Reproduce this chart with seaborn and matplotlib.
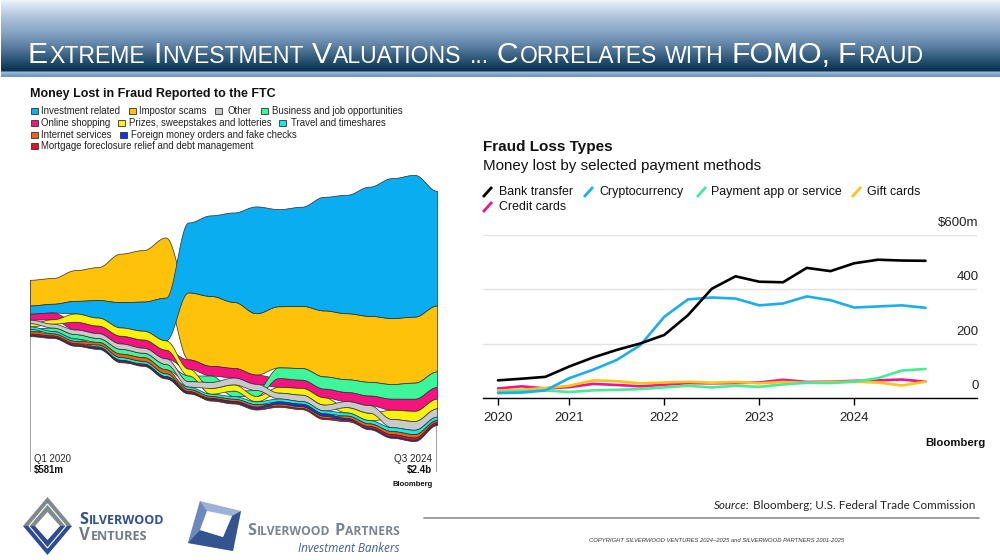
import numpy as np
import pandas as pd
import matplotlib
matplotlib.use("Agg")
import matplotlib.pyplot as plt
import seaborn as sns
from matplotlib.patches import Polygon, Rectangle
from matplotlib.colors import to_rgb
from matplotlib.transforms import ScaledTranslation

# ---------------- data: left stream chart (quarterly losses, $m) ----------------
stream_quarters = ["Q1 2020", "Q2 2020", "Q3 2020", "Q4 2020", "Q1 2021", "Q2 2021", "Q3 2021",
                   "Q4 2021", "Q1 2022", "Q2 2022", "Q3 2022", "Q4 2022", "Q1 2023", "Q2 2023",
                   "Q3 2023", "Q4 2023", "Q1 2024", "Q2 2024", "Q3 2024"]
stream_names = ["Investment related", "Impostor scams", "Other", "Business and job opportunities",
                "Online shopping", "Prizes, sweepstakes and lotteries", "Travel and timeshares",
                "Internet services", "Foreign money orders and fake checks",
                "Mortgage foreclosure relief and debt management"]
investment_related = [84, 90, 130, 180, 260, 300, 440, 720, 830, 920, 1100, 1000, 1020, 1170, 1220, 1330, 1440, 1460, 1180]
impostor_scams     = [265, 265, 316, 340, 500, 530, 620, 690, 720, 680, 632, 630, 640, 680, 680, 680, 680, 680, 680]
other_fraud        = [36, 40, 48, 50, 55, 52, 58, 55, 62, 70, 65, 60, 65, 60, 62, 78, 85, 90, 85]
business_job       = [25, 35, 45, 40, 50, 45, 55, 60, 65, 55, 60, 110, 120, 125, 130, 140, 150, 165, 160]
online_shopping    = [62, 70, 80, 78, 80, 85, 90, 95, 100, 100, 95, 90, 85, 90, 95, 100, 115, 125, 120]
prizes_lotteries   = [33, 45, 85, 82, 85, 90, 95, 70, 60, 65, 55, 60, 70, 75, 55, 75, 95, 105, 100]
travel_timeshares  = [25, 25, 25, 22, 28, 28, 30, 25, 25, 28, 30, 30, 28, 30, 32, 35, 40, 45, 35]
internet_services  = [24, 22, 24, 26, 35, 38, 40, 22, 20, 22, 25, 22, 20, 22, 25, 28, 32, 35, 22]
foreign_money      = [12, 12, 12, 12, 14, 12, 12, 12, 14, 15, 18, 22, 25, 24, 18, 15, 15, 15, 12]
mortgage_relief    = [15, 13, 14, 12, 12, 12, 12, 12, 12, 12, 12, 12, 12, 14, 15, 18, 22, 22, 18]
stream_colors = ["#0aaef0", "#ffc20a", "#c9c9c9", "#3ff59a", "#f5137f",
                 "#fbf20c", "#12ece6", "#f5620f", "#1036e6", "#e5112b"]

# ---------------- data: right line chart ($m per quarter) ----------------
pay_quarters = ["2020Q1", "2020Q2", "2020Q3", "2020Q4", "2021Q1", "2021Q2", "2021Q3", "2021Q4",
                "2022Q1", "2022Q2", "2022Q3", "2022Q4", "2023Q1", "2023Q2", "2023Q3", "2023Q4",
                "2024Q1", "2024Q2", "2024Q3"]
pay_series = ["Bank transfer", "Cryptocurrency", "Payment app or service", "Gift cards", "Credit cards"]
bank_transfer  = [65, 71, 78, 116, 149, 177, 201, 232, 305, 402, 448, 428, 426, 479, 467, 496, 509, 506, 505]
cryptocurrency = [18, 20, 28, 73, 104, 140, 195, 299, 363, 370, 366, 341, 348, 374, 360, 333, 337, 341, 332]
payment_app    = [22, 24, 28, 22, 28, 30, 33, 39, 45, 39, 45, 41, 50, 56, 55, 60, 73, 101, 107]
gift_cards     = [28, 30, 37, 45, 65, 62, 54, 57, 60, 56, 59, 54, 59, 56, 59, 60, 57, 46, 60]
credit_cards   = [35, 43, 35, 40, 52, 48, 43, 49, 55, 54, 55, 57, 67, 59, 60, 63, 65, 68, 60]
pay_colors = ["#000000", "#1aaef0", "#45ec95", "#ffc21a", "#f0168a"]
year_ticks = ["2020", "2021", "2022", "2023", "2024"]
value_ticks = [0, 200, 400, 600]
value_tick_labels = ["0", "200", "400", "$600m"]

# ---------------- setup ----------------
sns.set_theme(style="white")
plt.rcParams["font.family"] = ["Liberation Sans", "DejaVu Sans"]

W, H = 1000, 560
fig = plt.figure(figsize=(W / 100, H / 100), dpi=100)
fig.patch.set_facecolor("white")
R = fig.canvas.get_renderer()
PX2PT = 72 / 100


def fx(x):
    return x / W


def fy(y):
    return 1 - y / H


def put(x, y, s, size, width=None, ha="left", va="center", **kw):
    t = fig.text(fx(x), fy(y), s, fontsize=size, ha=ha, va=va, **kw)
    if width:
        bw = t.get_window_extent(renderer=R).width
        t.set_fontsize(size * width / bw)
    return t


def fit_size(s, size, width, **kw):
    t = fig.text(0, 0, s, fontsize=size, **kw)
    bw = t.get_window_extent(renderer=R).width
    t.remove()
    return size * width / bw


def runs(x, yb, parts, width=None):
    # parts: (text, size_pt, gap_px_before, kwargs)
    def lay(sc):
        arts, cx = [], x
        for text, size, gap, kw in parts:
            cx += gap * sc
            t = fig.text(fx(cx), fy(yb), text, fontsize=size * sc, ha="left", va="baseline", **kw)
            cx += t.get_window_extent(renderer=R).width
            arts.append(t)
        return arts, cx - x
    arts, tw = lay(1.0)
    if width:
        for a in arts:
            a.remove()
        arts, tw = lay(width / tw)
    return arts


def smallcaps(x, yb, words, big, small, width=None, **kw):
    parts = []
    for wi, (b, s) in enumerate(words):
        first = True
        for part, sz in ((b, big), (s, small)):
            if not part:
                continue
            if first:
                gap = 0.34 * small / PX2PT if wi else 0
            else:
                gap = 0.06 * sz / PX2PT
            parts.append((part, sz, gap, kw))
            first = False
    return runs(x, yb, parts, width)


# overlay axes in pixel coordinates for decorations
ax_o = fig.add_axes([0, 0, 1, 1], zorder=-1)
ax_o.patch.set_alpha(0)

# ---------------- title bar ----------------
stops = [(0, "#f2f6fa"), (6, "#d6e2ef"), (18, "#abc2db"), (32, "#88a6c6"), (46, "#5e81a3"),
         (58, "#315a7b"), (70, "#0b3453"), (71.5, "#0b3453"), (72, "#a3bfda"), (76, "#7398bf")]
rows = np.arange(0, 77, 0.5) + 0.25
pos = [p for p, _ in stops]
rgb = np.stack([np.interp(rows, pos, [to_rgb(c)[k] for _, c in stops]) for k in range(3)], axis=1)
img = np.repeat(rgb[:, None, :], 2, axis=1)
ax_o.imshow(img, extent=[1, W, 77, 0], aspect="auto", interpolation="nearest")

title_words = [("E", "XTREME"), ("I", "NVESTMENT"), ("V", "ALUATIONS"), ("", "..."),
               ("C", "ORRELATES"), ("", "WITH"), ("FOMO,", ""), ("F", "RAUD")]
smallcaps(28, 63, title_words, 21, 16, width=897, color="white",
          family=["Liberation Sans", "DejaVu Sans"])

# ---------------- left: stream chart ----------------
vals = np.array([investment_related, impostor_scams, other_fraud, business_job, online_shopping,
                 prizes_lotteries, travel_timeshares, internet_services, foreign_money,
                 mortgage_relief], dtype=float)
n_l, n_q = vals.shape
tot = vals.sum(axis=0)
lower = np.zeros_like(vals)
upper = np.zeros_like(vals)
for i in range(n_q):
    base = -tot[i] / 2
    for k in np.argsort(vals[:, i], kind="stable"):
        lower[k, i] = base
        base += vals[k, i]
        upper[k, i] = base

N = 30
s = np.linspace(0, 1, N, endpoint=False)
wgt = 0.5 - 0.5 * np.cos(np.pi * s)
xq = np.arange(n_q)
xs = np.concatenate([xq[i] + s for i in range(n_q - 1)] + [[xq[-1]]])


def smooth(a):
    return np.concatenate([a[i] + (a[i + 1] - a[i]) * wgt for i in range(n_q - 1)] + [[a[-1]]])


ax_l = fig.add_axes([fx(30), fy(475), 407 / W, 315 / H])
ax_l.patch.set_alpha(0)
ax_l.set_xlim(0, n_q - 1)
ax_l.set_ylim(-1720, 1524)
ax_l.axis("off")
ax_l.vlines([0, n_q - 1], -1690, [tot[0] / 2, tot[-1] / 2], color="#9a9a9a", lw=1.3, zorder=0)
draw_order = [1, 0, 4, 3, 5, 2, 6, 7, 8, 9]
for z, k in enumerate(draw_order):
    ax_l.fill_between(xs, smooth(lower[k]), smooth(upper[k]), facecolor=stream_colors[k],
                      edgecolor="#2a2a2a", linewidth=0.5, zorder=2 + z)

put(30, 94, "Money Lost in Fraud Reported to the FTC", 9, width=246, weight="bold", color="#111")
leg_size = fit_size(stream_names[-1], 7, 214)
left_legend_layout = [(31, 41, 111), (129, 139, 111), (215, 227, 111), (261, 272, 111),
                      (31, 41, 123), (118, 129, 123), (279, 291, 123),
                      (31, 41, 135), (120, 131, 135),
                      (31, 41, 146)]
for k, (sx, tx, y) in enumerate(left_legend_layout):
    ax_o.add_patch(Rectangle((sx, y - 3.4), 6.8, 6.8, facecolor=stream_colors[k],
                             edgecolor="#333333", lw=0.6))
    put(tx, y, stream_names[k], leg_size, color="#222")

put(34, 459, stream_quarters[0], 8, width=37, color="#222")
put(34, 470, f"${tot[0]:.0f}m", 8, width=30, weight="bold", color="#111")
put(432, 459, stream_quarters[-1], 8, width=38, ha="right", color="#222")
put(432, 470, f"${tot[-1] / 1000:.1f}b", 8, width=25, ha="right", weight="bold", color="#111")
put(433, 485, "Bloomberg", 6, width=41, ha="right", weight="bold", color="#111")

# ---------------- right: line chart ----------------
per = pd.PeriodIndex(pay_quarters, freq="Q")
xnum = per.year + per.quarter / 4
df = pd.DataFrame({"x": xnum, "Bank transfer": bank_transfer, "Cryptocurrency": cryptocurrency,
                   "Payment app or service": payment_app, "Gift cards": gift_cards,
                   "Credit cards": credit_cards})
long = df.melt(id_vars="x", var_name="series", value_name="value")

ax_r = fig.add_axes([fx(483), fy(398), (977 - 483) / W, (398 - 235) / H])
ax_r.patch.set_alpha(0)
ax_r.set_axisbelow(True)
sns.lineplot(data=long, x="x", y="value", hue="series", hue_order=pay_series[::-1],
             palette=dict(zip(pay_series, pay_colors)), linewidth=1.9, legend=False, ax=ax_r,
             clip_on=False)
ax_r.set_xlim(2020.092, 2025.292)
ax_r.set_ylim(0, 600)
ax_r.set_xlabel("")
ax_r.set_ylabel("")
for sp in ["top", "left", "right"]:
    ax_r.spines[sp].set_visible(False)
ax_r.spines["bottom"].set_color("black")
ax_r.spines["bottom"].set_linewidth(1.0)
ax_r.spines["bottom"].set_zorder(5)
ax_r.yaxis.grid(True, color="#e2e2e2", lw=1)
ax_r.xaxis.grid(False)
xt = [xnum[0]] + [int(y) for y in year_ticks[1:]]
ax_r.set_xticks(xt, year_ticks)
ax_r.tick_params(axis="x", bottom=True, length=5, width=1, color="black", direction="out",
                 pad=5, labelsize=9.5, labelcolor="#222")
ax_r.set_yticks(value_ticks, value_tick_labels)
ax_r.yaxis.tick_right()
ax_r.tick_params(axis="y", right=True, left=False, length=0, pad=0, labelsize=9.5,
                 labelcolor="#222")
for lab in ax_r.get_yticklabels():
    lab.set_horizontalalignment("right")
    lab.set_verticalalignment("center")
    lab.set_transform(lab.get_transform() + ScaledTranslation(0.015, 0.12, fig.dpi_scale_trans))

put(483, 147, "Fraud Loss Types", 10, width=130, weight="bold", color="#111")
put(483, 166, "Money lost by selected payment methods", 10.5, width=280, color="#111")
rleg = fit_size("Payment app or service", 9, 131)
right_legend_layout = [(483, 499, 192), (584, 599, 192), (697, 711, 192), (852, 867, 192),
                       (483, 499, 207)]
for k, (sx, tx, y) in enumerate(right_legend_layout):
    ax_o.plot([sx, sx + 9], [y + 5, y - 5], color=pay_colors[k], lw=2.0, solid_capstyle="butt")
    put(tx, y, pay_series[k], rleg, color="#111")
put(985, 443, "Bloomberg", 9, width=60, ha="right", weight="bold", color="#111")

# ---------------- footer ----------------
# Silverwood Ventures logo
cx, cy = 47.5, 526
ow, oh, iw, ih = 24.5, 29, 12.5, 14
ax_o.add_patch(Polygon([(cx - ow, cy), (cx, cy - oh), (cx + ow, cy), (cx + iw, cy), (cx, cy - ih),
                        (cx - iw, cy)], closed=True, facecolor="#7d8b90", edgecolor="none"))
ax_o.add_patch(Polygon([(cx - ow, cy), (cx, cy + oh), (cx + ow, cy), (cx + iw, cy), (cx, cy + ih),
                        (cx - iw, cy)], closed=True, facecolor="#2d4c92", edgecolor="none"))
ax_o.add_patch(Polygon([(cx - ow + 6, cy), (cx, cy - oh + 7), (cx + ow - 6, cy), (cx, cy + oh - 7)],
                       closed=True, facecolor="none", edgecolor="white", lw=0.8))
fam_logo = ["Open Sans", "DejaVu Sans"]
smallcaps(79, 524, [("S", "ILVERWOOD")], 10, 7.6, width=85, color="#2f4f96",
          family=fam_logo, weight="bold")
smallcaps(79, 540, [("V", "ENTURES")], 10, 7.6, width=68, color="#6f7c86",
          family=fam_logo, weight="bold")

# Silverwood Partners logo
ax_o.add_patch(Polygon([(200, 501), (241, 511), (233, 551), (188, 543)], closed=True,
                       facecolor="#9db1d6", edgecolor="none"))
ax_o.add_patch(Polygon([(188, 543), (200, 530), (207, 511), (200, 501)], closed=True,
                       facecolor="#6d88bd", edgecolor="none"))
ax_o.add_patch(Polygon([(241, 511), (233, 551), (188, 543), (200, 530), (223, 537), (232, 516)],
                       closed=True, facecolor="#34548f", edgecolor="none"))
ax_o.add_patch(Polygon([(207, 511), (232, 516), (223, 537), (200, 530)], closed=True,
                       facecolor="white", edgecolor="none"))
smallcaps(247, 535, [("S", "ILVERWOOD"), ("P", "ARTNERS")], 11.5, 8.6, width=153,
          color="#7b858e", family=fam_logo, weight="bold")
put(400, 548, "Investment Bankers", 8, width=102, ha="right", style="italic",
    color="#3f5f9c", family=fam_logo)

# source + rule + copyright
src_fam = ["Lato", "DejaVu Sans"]
runs(714, 509, [("Source:", 9, 0, dict(style="italic", family=src_fam, color="#222")),
                ("Bloomberg; U.S. Federal Trade Commission", 9, 3.2,
                 dict(family=src_fam, color="#222"))], width=260)
ax_o.plot([424, 979], [518, 518], color="#8c8c8c", lw=1.2)
put(589, 540, "COPYRIGHT SILVERWOOD VENTURES 2024\u20132025 and SILVERWOOD PARTNERS 2001-2025", 5,
    width=258, style="italic", color="#333")

ax_o.set_xlim(0, W)
ax_o.set_ylim(H, 0)
ax_o.axis("off")

fig.savefig("out.png", dpi=100, facecolor="white")
